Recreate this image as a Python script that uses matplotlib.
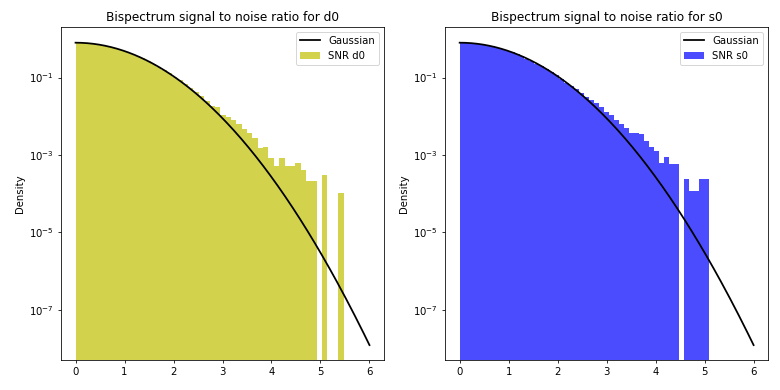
import numpy as np
import matplotlib
matplotlib.use("Agg")
import matplotlib.pyplot as plt

# histogram densities, 50 bins from 0 to max SNR
d0_max = 5.47
d0_density = [0.797, 0.787, 0.769, 0.742, 0.707, 0.666, 0.620, 0.570, 0.518, 0.465,
              0.413, 0.362, 0.314, 0.269, 0.228, 0.191, 0.158, 0.130, 0.106, 0.085,
              0.0675, 0.053, 0.0417, 0.034, 0.0253, 0.0185, 0.0170, 0.0108, 0.0094, 0.0080,
              0.0063, 0.0047, 0.0036, 0.0028, 0.00154, 0.00163, 0.00082, 0.00052, 0.00082, 0.00052,
              0.00052, 0.00061, 0.00041, 0.00021, 0.00021, 0, 0.00031, 0, 0, 0.000102]

s0_max = 5.09
s0_density = [0.797, 0.789, 0.773, 0.749, 0.718, 0.682, 0.641, 0.596, 0.549, 0.500,
              0.451, 0.402, 0.355, 0.311, 0.269, 0.231, 0.196, 0.165, 0.138, 0.117,
              0.092, 0.072, 0.0607, 0.0498, 0.0392, 0.0310, 0.0264, 0.0216, 0.0177, 0.0131,
              0.0108, 0.0080, 0.0063, 0.0049, 0.0038, 0.0036, 0.0034, 0.0023, 0.00163, 0.00126,
              0.00061, 0.00090, 0.00057, 0.00057, 0, 0.000234, 0.000117, 0.000117, 0.000234, 0.000234]

panels = [("d0", d0_max, d0_density, "y"), ("s0", s0_max, s0_density, "b")]
yticks = [1e-7, 1e-5, 1e-3, 1e-1]

# half-normal reference curve
xg = np.linspace(0, 6, 200)
gauss = 2 / np.sqrt(2 * np.pi) * np.exp(-xg ** 2 / 2)

plt.rcParams["font.size"] = 10.3
fig, axes = plt.subplots(1, 2, figsize=(11, 5.5), dpi=780 / 11)
fig.subplots_adjust(left=0.078, right=0.985, bottom=0.077, top=0.931, wspace=0.188)

for ax, (name, vmax, dens, col) in zip(axes, panels):
    edges = np.linspace(0, vmax, len(dens) + 1)
    ax.plot(xg, gauss, color="k", lw=1.8, label="Gaussian")
    ax.bar(edges[:-1], dens, width=np.diff(edges), align="edge",
           color=col, alpha=0.7, label=f"SNR {name}")
    ax.set_yscale("log")
    ax.set_ylim(10 ** -8.30, 10 ** 0.31)
    ax.set_yticks(yticks)
    ax.minorticks_off()
    ax.set_ylabel("Density")
    ax.set_title(f"Bispectrum signal to noise ratio for {name}")
    ax.legend(loc="upper right")

plt.savefig("out.png")
